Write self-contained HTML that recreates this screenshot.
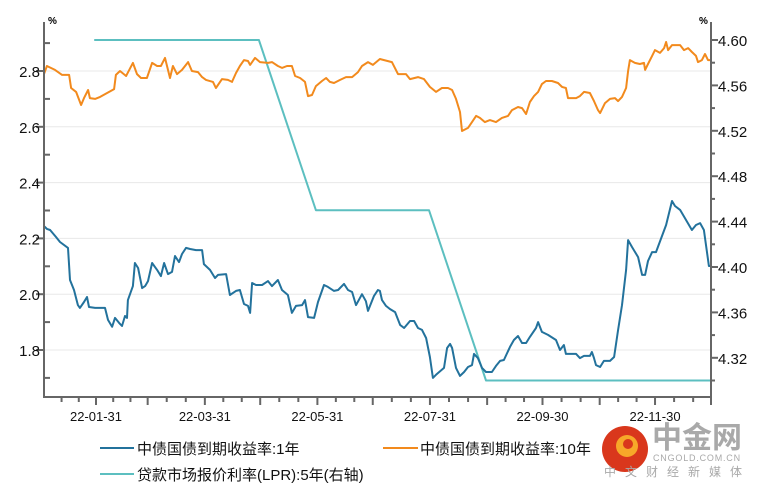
<!DOCTYPE html>
<html><head><meta charset="utf-8"><style>
html,body{margin:0;padding:0;background:#fff;}
svg{display:block;font-family:"Liberation Sans","Noto Sans CJK SC",sans-serif;}
</style></head><body>
<svg id="chart" width="758" height="489" viewBox="0 0 758 489" xmlns="http://www.w3.org/2000/svg">
<g id="grid"></g>
<g id="series"></g>
<g id="axes"></g>
<text x="48" y="24" font-size="10" font-weight="bold" fill="#000">%</text>
<text x="699" y="24" font-size="10" font-weight="bold" fill="#000">%</text>
<g font-size="15" fill="#111">
<g><line x1="100" y1="448" x2="134" y2="448" stroke="#23729c" stroke-width="2"/><text x="137" y="454">中债国债到期收益率:1年</text></g>
<g><line x1="383" y1="448" x2="418" y2="448" stroke="#f28a1d" stroke-width="2"/><text x="420" y="454">中债国债到期收益率:10年</text></g>
<g><line x1="100" y1="474" x2="134" y2="474" stroke="#5cbfc0" stroke-width="2"/><text x="137" y="480">贷款市场报价利率(LPR):5年(右轴)</text></g>
</g>
<g>
<circle cx="625" cy="449" r="23" fill="#d9371c"/>
<circle cx="627" cy="446" r="11" fill="#f7a829"/>
<circle cx="628" cy="444" r="5" fill="#d9371c"/>
<text x="652" y="448" font-size="30" font-weight="bold" fill="#a9a9a9">中金网</text>
<text x="653" y="461" font-size="9" fill="#a9a9a9" letter-spacing="0.8">CNGOLD.COM.CN</text>
<text x="604" y="476" font-size="12" fill="#a9a9a9" letter-spacing="9">中文财经新媒体</text>
</g>
</svg>
<script>
const xTickDays=[31,59,90,120,151,181,212,243,273,304,334,365];
const xLabelDays=[31,90,151,212,273,334];
const xLabels=["22-01-31","22-03-31","22-05-31","22-07-31","22-09-30","22-11-30"];
const leftTicks=[1.8,2.0,2.2,2.4,2.6,2.8];
const leftTickLabels=["1.8","2.0","2.2","2.4","2.6","2.8"];
const rightTicks=[4.32,4.36,4.40,4.44,4.48,4.52,4.56,4.60];
const rightTickLabels=["4.32","4.36","4.40","4.44","4.48","4.52","4.56","4.60"];
const y10Days=[2.8,4.4,8.8,12.6,16.4,17.5,20.2,22.9,24.5,26.7,27.7,30.5,33.2,40.8,41.8,44,47.3,51,53.2,55.4,58.6,61.4,64.1,66.2,68.4,71.1,72.7,74.9,77.6,80.9,83,86.3,88.5,90.6,94.4,96,99.3,102.5,104.7,106.9,109,111.2,113.4,114.5,117.2,119.9,124.2,126.4,129.6,131.8,134.5,137.2,138.9,141.6,144.3,145.9,148.1,150.2,153.5,155.7,157.8,160,163.3,166.5,169.8,173,175.2,178.4,181.1,184.9,191.4,194.7,199,201.2,205.5,208.8,212,215.3,218.5,221.8,224,226.1,228.3,229.4,232.6,234.8,237,239.1,241.8,244.5,247.8,251,254.3,256.5,259.7,261.9,264.1,266.2,268.4,270.6,272.7,274.9,278.1,281.4,283.6,285.7,286.8,291.2,293.3,295.5,298.7,300.9,303.1,304.2,306.9,309.6,312.3,314,316.1,318.3,319.4,320.4,323.1,325.8,328,328.6,330.2,332.4,334,336.7,338.9,340,341.1,343.2,347.6,349.7,351.9,354,356.2,357.3,359.4,361.1,362.7,364.3];
const y10Values=[2.789,2.818,2.804,2.786,2.786,2.739,2.725,2.678,2.703,2.732,2.703,2.70,2.707,2.735,2.786,2.80,2.782,2.829,2.789,2.775,2.775,2.829,2.818,2.818,2.847,2.775,2.818,2.789,2.804,2.832,2.80,2.796,2.778,2.768,2.761,2.739,2.771,2.768,2.761,2.793,2.818,2.839,2.836,2.822,2.847,2.832,2.829,2.832,2.818,2.811,2.818,2.818,2.782,2.775,2.761,2.71,2.714,2.746,2.764,2.775,2.761,2.757,2.768,2.778,2.778,2.796,2.818,2.832,2.822,2.843,2.832,2.789,2.789,2.771,2.778,2.771,2.743,2.725,2.739,2.739,2.732,2.70,2.653,2.585,2.596,2.617,2.639,2.632,2.617,2.624,2.617,2.632,2.639,2.660,2.671,2.667,2.646,2.689,2.71,2.725,2.753,2.764,2.764,2.757,2.743,2.739,2.703,2.703,2.71,2.725,2.721,2.692,2.66,2.649,2.685,2.70,2.703,2.692,2.707,2.739,2.80,2.839,2.829,2.825,2.829,2.804,2.825,2.854,2.875,2.865,2.882,2.904,2.875,2.893,2.893,2.875,2.882,2.868,2.854,2.832,2.839,2.861,2.839,2.839];
const y1Days=[2.8,4.4,6.1,9.3,11.5,15.8,16.9,19.1,21.2,22.3,24.5,26.1,27.2,30.5,35.9,37.5,39.7,41.3,43.5,45.1,46.7,47.8,48.3,51,52.1,53.8,56,57.6,59.2,61.4,64.1,66.2,67.9,70,72.2,73.8,76,77.6,79.8,82,85.2,88.5,89.5,92.8,95.5,97.1,101.5,103.6,106.9,109,111.2,113.4,114.5,115.6,117.7,121,124.2,126.4,129.6,131.8,135,137.2,139.4,142.7,144.3,145.9,149.2,151.3,154.6,156.7,160,162.2,165.4,167.6,169.8,171.9,175.2,177.3,178.4,181.7,183.8,184.9,186,188.2,190.3,193.1,195.8,198,201.2,203.4,205.5,207.7,209.9,212,213.6,215.3,219.6,221.3,222.9,224,226.1,228.3,230.5,232.6,234.8,235.9,238,240.2,242.4,245.6,247.8,250,252.1,255.4,257.5,259.7,261.9,264.1,266.2,269.5,270.6,272.7,276,280.3,282.5,284.6,285.7,291.2,293.3,295.5,298.7,299.8,300.9,302,304.2,306.3,309.6,311.8,314,316.1,318.3,319.4,321.5,324.8,327,328.6,330.2,332.4,334.5,340,343.2,344.8,347.6,354,356.2,358.4,360.5,361.6,363.2,364.3];
const y1Values=[2.244,2.234,2.230,2.205,2.187,2.166,2.051,2.015,1.961,1.951,1.972,1.990,1.954,1.951,1.951,1.908,1.883,1.915,1.897,1.886,1.922,1.915,1.979,2.029,2.112,2.094,2.022,2.029,2.047,2.112,2.087,2.065,2.112,2.072,2.080,2.137,2.115,2.144,2.166,2.162,2.158,2.158,2.108,2.087,2.058,2.069,2.072,1.997,2.012,2.015,1.965,1.958,1.933,2.040,2.033,2.033,2.047,2.029,2.051,2.015,1.997,1.933,1.958,1.961,1.979,1.918,1.915,1.972,2.033,2.026,2.012,2.015,2.037,2.015,2.008,1.961,2.000,1.975,1.940,1.994,2.015,2.012,1.979,1.958,1.947,1.936,1.890,1.879,1.904,1.904,1.879,1.872,1.843,1.775,1.700,1.711,1.736,1.807,1.822,1.807,1.736,1.707,1.721,1.739,1.746,1.786,1.771,1.736,1.721,1.721,1.743,1.761,1.764,1.811,1.836,1.850,1.825,1.825,1.847,1.879,1.900,1.865,1.854,1.836,1.800,1.818,1.786,1.786,1.771,1.779,1.779,1.793,1.771,1.746,1.739,1.761,1.761,1.775,1.872,1.961,2.087,2.194,2.169,2.133,2.069,2.069,2.119,2.151,2.151,2.248,2.334,2.316,2.302,2.230,2.248,2.255,2.230,2.176,2.101,2.101];
const lprDays=[30,119.3,150.2,211.5,242.4,364.3];
const lprValues=[4.60,4.60,4.45,4.45,4.30,4.30];

const NS="http://www.w3.org/2000/svg";
const X0=44,X1=711,YT=22,YB=397;
function xs(d){return 96+(d-31)*1.845;}
function yl(v){return 71+(2.8-v)*279;}
function yr(v){return 40+(4.60-v)*1135;}
function mk(tag,attrs,parent){const e=document.createElementNS(NS,tag);for(const k in attrs)e.setAttribute(k,attrs[k]);parent.appendChild(e);return e;}
const grid=document.getElementById('grid'),axes=document.getElementById('axes'),series=document.getElementById('series');

leftTicks.forEach((v,i)=>{
  const gl=mk('line',{x1:X0,x2:X1,y1:yl(v),y2:yl(v),stroke:'#e8e8e8','stroke-width':1},grid);
  
  
  const t=mk('line',{x1:X0-8,x2:X0,y1:yl(v),y2:yl(v),stroke:'#666','stroke-width':2},axes);
  
  
  const m=mk('line',{x1:X0,x2:X0+6,y1:yl(v+0.1),y2:yl(v+0.1),stroke:'#666','stroke-width':2},axes);
  
  
  const lb=mk('text',{x:X0-4,y:yl(v)+6,'text-anchor':'end','font-size':15,fill:'#111'},axes);
  lb.textContent=leftTickLabels[i];
  
  
});
{const m=mk('line',{x1:X0,x2:X0+6,y1:yl(1.7),y2:yl(1.7),stroke:'#666','stroke-width':2},axes);

}
rightTicks.forEach((v,i)=>{
  const t=mk('line',{x1:X1,x2:X1+7,y1:yr(v),y2:yr(v),stroke:'#666','stroke-width':2},axes);
  
  
  const m=mk('line',{x1:X1,x2:X1+4,y1:yr(v-0.02),y2:yr(v-0.02),stroke:'#666','stroke-width':2},axes);
  
  
  const lb=mk('text',{x:X1+7,y:yr(v)+6,'font-size':15,fill:'#111'},axes);
  lb.textContent=rightTickLabels[i];
  
  
});
let prev=3;
xTickDays.forEach(d=>{
  const x=Math.min(xs(d),X1);
  const t=mk('line',{x1:x,x2:x,y1:YB,y2:YB+8,stroke:'#666','stroke-width':2},axes);
  
  
  [1/3,2/3].forEach(f=>{const dm=prev+(d-prev)*f;if(xs(dm)>X0+4){
    const m=mk('line',{x1:xs(dm),x2:xs(dm),y1:YB,y2:YB+5,stroke:'#666','stroke-width':2},axes);
    
    }});
  prev=d;
});
xLabelDays.forEach((d,i)=>{
  const lb=mk('text',{x:xs(d),y:YB+24,'text-anchor':'middle','font-size':13,fill:'#111'},axes);
  lb.textContent=xLabels[i];
  
  
});
const la=mk('line',{x1:X0,x2:X0,y1:YT,y2:YB+1,stroke:'#666','stroke-width':2},axes);


const ra=mk('line',{x1:X1,x2:X1,y1:YT,y2:YB+1,stroke:'#666','stroke-width':2},axes);


const ba=mk('line',{x1:X0,x2:X1,y1:YB,y2:YB,stroke:'#666','stroke-width':2},axes);



function line(days,vals,fy,color,name){
  const pts=days.map((d,i)=>xs(d).toFixed(1)+','+fy(vals[i]).toFixed(1)).join(' ');
  const p=mk('polyline',{points:pts,fill:'none',stroke:color,'stroke-width':2,'stroke-linejoin':'round'},series);
  
  
}
line(lprDays,lprValues,yr,'#5cbfc0','lpr-5y-line');
line(y10Days,y10Values,yl,'#f28a1d','yield-10y-line');
line(y1Days,y1Values,yl,'#23729c','yield-1y-line');
</script>
</body></html>
